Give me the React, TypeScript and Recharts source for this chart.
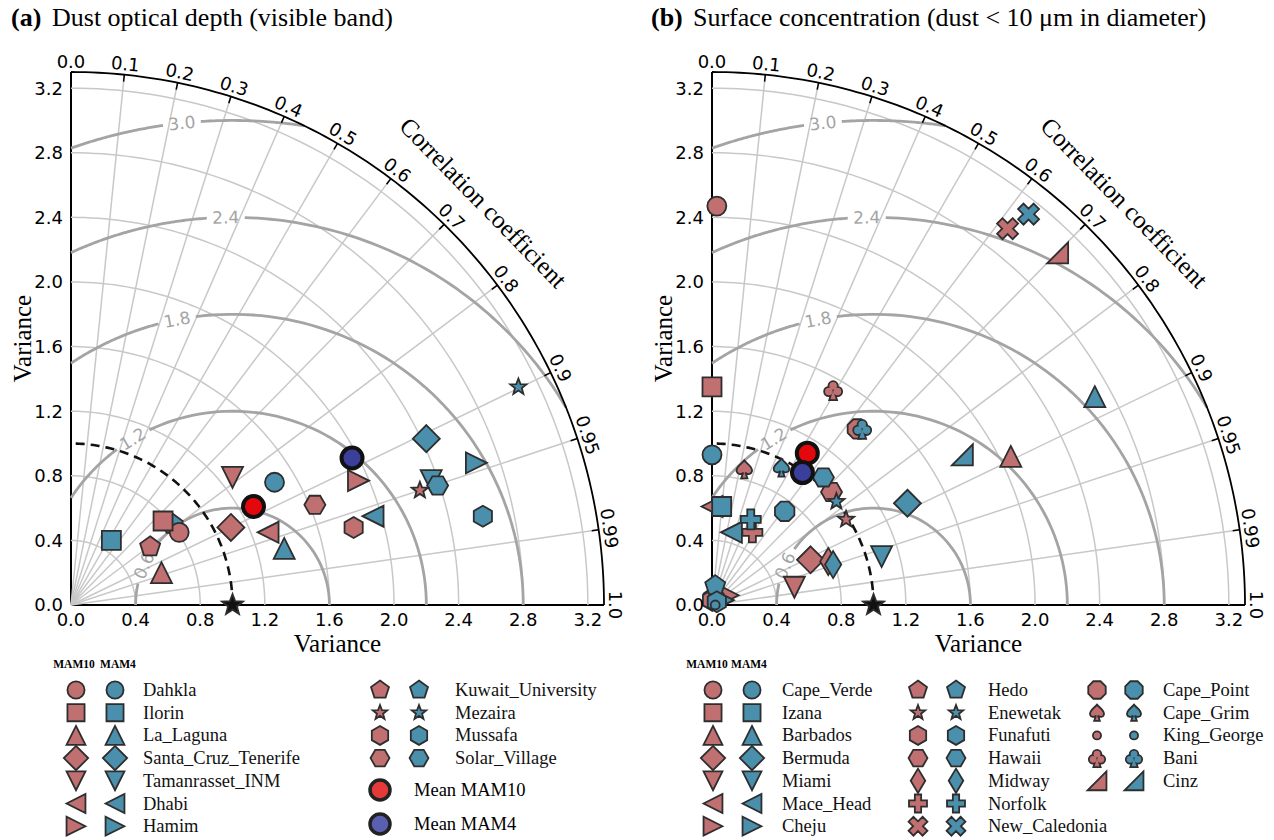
import { Scatter, ScatterChart, XAxis, YAxis } from 'recharts'

// ---- panel (a): dust optical depth (visible band) ----
const stationsA = ['Dahkla', 'Ilorin', 'La_Laguna', 'Santa_Cruz_Tenerife', 'Tamanrasset_INM', 'Dhabi', 'Hamim', 'Kuwait_University', 'Mezaira', 'Mussafa', 'Solar_Village']
const markersA = ['o', 's', '^', 'D', 'v', '<', '>', 'p', '*', 'h', 'H']
const mam10XA = [0.67, 0.57, 0.56, 0.99, 1.0, 1.22, 1.78, 0.49, 2.16, 1.75, 1.51]
const mam10YA = [0.45, 0.52, 0.2, 0.48, 0.79, 0.45, 0.77, 0.36, 0.71, 0.48, 0.62]
const mam4XA = [1.26, 0.25, 1.32, 2.2, 2.23, 1.87, 2.51, 0.63, 2.77, 2.55, 2.27]
const mam4YA = [0.76, 0.4, 0.35, 1.03, 0.77, 0.55, 0.88, 0.5, 1.35, 0.55, 0.74]
const meanXA = [1.13, 1.74]
const meanYA = [0.61, 0.91]

// ---- panel (b): surface concentration ----
const stationsB = ['Cape_Verde', 'Izana', 'Barbados', 'Bermuda', 'Miami', 'Mace_Head', 'Cheju', 'Hedo', 'Enewetak', 'Funafuti', 'Hawaii', 'Midway', 'Norfolk', 'New_Caledonia', 'Cape_Point', 'Cape_Grim', 'King_George', 'Bani', 'Cinz']
const markersB = ['o', 's', '^', 'D', 'v', '<', '>', 'p', '*', 'h', 'H', 'd', 'P', 'X', '8', 'spade', '.', 'club', 'cinz']
const mam10XB = [0.03, 0.0, 1.85, 0.61, 0.51, 0.0, 0.1, 0.01, 0.83, 0.0, 0.74, 0.72, 0.25, 1.83, 0.9, 0.2, 0.01, 0.75, 2.14]
const mam10YB = [2.47, 1.35, 0.92, 0.28, 0.11, 0.61, 0.06, 0.05, 0.53, 0.03, 0.7, 0.27, 0.45, 2.33, 1.09, 0.84, 0.01, 1.33, 2.18]
const mam4XB = [0.0, 0.06, 2.37, 1.21, 1.05, 0.12, 0.07, 0.02, 0.77, 0.03, 0.69, 0.75, 0.24, 1.96, 0.45, 0.43, 0.02, 0.93, 1.55]
const mam4YB = [0.93, 0.61, 1.29, 0.63, 0.3, 0.45, 0.03, 0.12, 0.64, 0.02, 0.79, 0.25, 0.53, 2.42, 0.58, 0.85, 0.0, 1.09, 0.93]
const meanXB = [0.59, 0.56]
const meanYB = [0.94, 0.82]

// axes / grid definition
const CORR_TICKS = [0, 0.1, 0.2, 0.3, 0.4, 0.5, 0.6, 0.7, 0.8, 0.9, 0.95, 0.99, 1]
const STD_TICKS = [0, 0.4, 0.8, 1.2, 1.6, 2.0, 2.4, 2.8, 3.2]
const RMS_LEVELS = [0.6, 1.2, 1.8, 2.4, 3.0]
const RMS_LABEL_DEG = [156, 121, 101, 91, 96]

const R_MAX = 3.3
const PLOT = 533
const PX = PLOT / R_MAX
const DEG = Math.PI / 180

const RED = '#c07071'
const BLUE = '#4a90ac'
const EDGE = '#2e2e2e'
const GRID = '#c8c8c8'
const RMS_C = '#a4a4a4'
const SERIF = '"Liberation Serif", "Times New Roman", serif'
const SANS = '"DejaVu Sans", sans-serif'

type Pt = { x: number; y: number; [k: string]: any }

const clampPt = (x: number, y: number): Pt => ({
  x: Math.min(R_MAX, Math.max(0, x)),
  y: Math.min(R_MAX, Math.max(0, y)),
})

function arc(x0: number, r: number, a0: number, a1: number, n = 90): Pt[] {
  return Array.from({ length: n + 1 }, (_, i) => {
    const a = (a0 + ((a1 - a0) * i) / n) * DEG
    return clampPt(x0 + r * Math.cos(a), r * Math.sin(a))
  })
}

// centred-RMS circle around the reference point, cut to the quarter disc, with a gap for its label
function rmsSegments(level: number, labelDeg: number): Pt[][] {
  const hi = level > 1 ? Math.acos(-1 / level) / DEG : 180
  const c = (R_MAX * R_MAX - 1 - level * level) / (2 * level)
  const lo = c < 1 ? Math.acos(c) / DEG : 0
  const gap = 19 / (level * PX) / DEG
  return [arc(1, level, lo, labelDeg - gap, 60), arc(1, level, labelDeg + gap, hi, 60)]
}

// ---- marker glyphs ----
const reg = (n: number, start: number) =>
  Array.from({ length: n }, (_, i) => {
    const a = (start + (360 / n) * i) * DEG
    return [Math.cos(a), Math.sin(a)]
  })
const STAR = Array.from({ length: 10 }, (_, i) => {
  const a = (-90 + 36 * i) * DEG
  const r = i % 2 ? 0.42 : 1
  return [r * Math.cos(a), r * Math.sin(a)]
})
const PLUS = [[-0.35, -1], [0.35, -1], [0.35, -0.35], [1, -0.35], [1, 0.35], [0.35, 0.35], [0.35, 1], [-0.35, 1], [-0.35, 0.35], [-1, 0.35], [-1, -0.35], [-0.35, -0.35]]
const CROSS = PLUS.map(([x, y]) => [(x - y) * Math.SQRT1_2, (x + y) * Math.SQRT1_2])

const SHAPES: Record<string, { pts: number[][]; r: number }> = {
  s: { pts: [[-1, -1], [1, -1], [1, 1], [-1, 1]], r: 9.5 },
  '^': { pts: [[0, -1], [1, 1], [-1, 1]], r: 10.5 },
  v: { pts: [[0, 1], [1, -1], [-1, -1]], r: 10.5 },
  '<': { pts: [[-1, 0], [1, -1], [1, 1]], r: 10.5 },
  '>': { pts: [[1, 0], [-1, -1], [-1, 1]], r: 10.5 },
  D: { pts: [[0, -1], [1, 0], [0, 1], [-1, 0]], r: 13.5 },
  d: { pts: [[0, -1], [0.6, 0], [0, 1], [-0.6, 0]], r: 13.5 },
  p: { pts: reg(5, -90), r: 10.5 },
  h: { pts: reg(6, -90), r: 10.5 },
  H: { pts: reg(6, 0), r: 10.5 },
  '8': { pts: reg(8, 22.5), r: 10.5 },
  '*': { pts: STAR, r: 8.5 },
  P: { pts: PLUS, r: 10 },
  X: { pts: CROSS, r: 11 },
  cinz: { pts: [[-1, 1], [1, 1], [1, -1]], r: 10.5 },
}

const SPADE = 'M0,-1 C0.35,-0.55 1,-0.25 0.85,0.25 C0.75,0.6 0.3,0.6 0.12,0.35 L0.35,1 L-0.35,1 L-0.12,0.35 C-0.3,0.6 -0.75,0.6 -0.85,0.25 C-1,-0.25 -0.35,-0.55 0,-1 Z'

function clubParts(fill: string, stroke: string, sw: number) {
  const common = { fill, stroke, strokeWidth: sw, vectorEffect: 'non-scaling-stroke' as const }
  return [
    <circle key="a" cx={0} cy={-0.48} r={0.42} {...common} />,
    <circle key="b" cx={-0.48} cy={0.15} r={0.42} {...common} />,
    <circle key="c" cx={0.48} cy={0.15} r={0.42} {...common} />,
    <polygon key="d" points="0,0 0.3,1 -0.3,1" {...common} />,
  ]
}

function Glyph({ kind, cx, cy, fill, k = 1 }: { kind: string; cx: number; cy: number; fill: string; k?: number }) {
  const sw = 1.8
  if (kind === 'o' || kind === '.') {
    return <circle cx={cx} cy={cy} r={(kind === 'o' ? 9.5 : 4.5) * k} fill={fill} stroke={EDGE} strokeWidth={sw} />
  }
  if (kind === 'spade') {
    return (
      <path d={SPADE} transform={`translate(${cx},${cy}) scale(${9 * k})`} fill={fill} stroke={EDGE}
        strokeWidth={sw} vectorEffect="non-scaling-stroke" />
    )
  }
  if (kind === 'club') {
    return (
      <g transform={`translate(${cx},${cy}) scale(${9 * k})`}>
        {clubParts(EDGE, EDGE, sw * 2)}
        {clubParts(fill, 'none', 0)}
      </g>
    )
  }
  const sh = SHAPES[kind]
  const r = sh.r * k
  const pts = sh.pts.map(([x, y]) => `${(cx + x * r).toFixed(2)},${(cy + y * r).toFixed(2)}`).join(' ')
  return <polygon points={pts} fill={fill} stroke={EDGE} strokeWidth={sw} strokeLinejoin="miter" />
}

const NONE = () => <g />

function CorrTick(p: any) {
  const c = p.payload.c
  const th = Math.acos(c)
  const ux = Math.cos(th)
  const uy = -Math.sin(th)
  const tx = p.cx + ux * 11
  const ty = p.cy + uy * 11
  const label = c === 0 ? '0.0' : c === 1 ? '1.0' : String(c)
  return (
    <g>
      <line x1={p.cx} y1={p.cy} x2={p.cx - ux * 7} y2={p.cy - uy * 7} stroke="#000" strokeWidth={1.5} />
      <text x={tx} y={ty} transform={`rotate(${90 - th / DEG} ${tx} ${ty})`} textAnchor="middle"
        dominantBaseline="central" fontFamily={SANS} fontSize={18} fill="#000">
        {label}
      </text>
    </g>
  )
}

function RmsLabel(p: any) {
  const { lv, deg } = p.payload
  return (
    <text x={p.cx} y={p.cy} transform={`rotate(${90 - deg} ${p.cx} ${p.cy})`} textAnchor="middle"
      dominantBaseline="central" fill={RMS_C} fontSize={17} fontFamily={SANS}>
      {lv.toFixed(1)}
    </text>
  )
}

function CorrTitle(p: any) {
  const a = p.payload.a * DEG
  const tx = p.cx + Math.cos(a) * 43
  const ty = p.cy - Math.sin(a) * 43
  return (
    <text x={tx} y={ty} transform={`rotate(${90 - p.payload.a} ${tx} ${ty})`} textAnchor="middle"
      dominantBaseline="central" fontFamily={SERIF} fontSize={25} fill="#000">
      Correlation coefficient
    </text>
  )
}

interface PanelProps {
  width: number
  kinds: string[]
  xs10: number[]
  ys10: number[]
  xs4: number[]
  ys4: number[]
  meanX: number[]
  meanY: number[]
  mam4First: boolean
}

function TaylorPanel({ width, kinds, xs10, ys10, xs4, ys4, meanX, meanY, mam4First }: PanelProps) {
  const p10 = xs10.map((x, i) => ({ x, y: ys10[i], kind: kinds[i] }))
  const p4 = xs4.map((x, i) => ({ x, y: ys4[i], kind: kinds[i] }))
  const means = meanX.map((x, i) => ({ x, y: meanY[i], fill: i === 0 ? '#e4080c' : '#3a3f9c' }))
  const corrPts = CORR_TICKS.map((c) => ({ x: R_MAX * c, y: R_MAX * Math.sqrt(1 - c * c), c }))
  const rmsLabels = RMS_LEVELS.map((lv, i) => ({
    x: 1 + lv * Math.cos(RMS_LABEL_DEG[i] * DEG),
    y: lv * Math.sin(RMS_LABEL_DEG[i] * DEG),
    lv,
    deg: RMS_LABEL_DEG[i],
  }))
  const titleAng = 44.3
  const s10 = (
    <Scatter key="mam10" data={p10} isAnimationActive={false}
      shape={(p: any) => <Glyph kind={p.payload.kind} cx={p.cx} cy={p.cy} fill={RED} />} />
  )
  const s4 = (
    <Scatter key="mam4" data={p4} isAnimationActive={false}
      shape={(p: any) => <Glyph kind={p.payload.kind} cx={p.cx} cy={p.cy} fill={BLUE} />} />
  )

  return (
    <ScatterChart width={width} height={660} margin={{ top: 72, right: width - 604, bottom: 5, left: 11 }}>
      <XAxis type="number" dataKey="x" domain={[0, R_MAX]} ticks={STD_TICKS} interval={0}
        tickFormatter={(v: number) => v.toFixed(1)} tickLine={false} tickSize={6} height={50}
        axisLine={{ stroke: '#000', strokeWidth: 2 }}
        tick={{ fontSize: 18, fill: '#000', fontFamily: SANS }}
        label={{ value: 'Variance', position: 'insideBottom', offset: 3, style: { fontFamily: SERIF, fontSize: 25, fill: '#000' } }} />
      <YAxis type="number" dataKey="y" domain={[0, R_MAX]} ticks={STD_TICKS} interval={0}
        tickFormatter={(v: number) => v.toFixed(1)} tickLine={false} tickSize={6} width={60}
        axisLine={{ stroke: '#000', strokeWidth: 2 }}
        tick={{ fontSize: 18, fill: '#000', fontFamily: SANS }}
        label={{ value: 'Variance', angle: -90, position: 'insideLeft', offset: 11, style: { textAnchor: 'middle', fontFamily: SERIF, fontSize: 25, fill: '#000' } }} />

      {STD_TICKS.slice(1).map((r) => (
        <Scatter key={`std${r}`} data={arc(0, r, 0, 90)} line={{ stroke: GRID, strokeWidth: 1.5 }}
          shape={NONE} isAnimationActive={false} />
      ))}
      {CORR_TICKS.slice(1, -1).map((c) => (
        <Scatter key={`cor${c}`} data={[{ x: 0, y: 0 }, { x: R_MAX * c, y: R_MAX * Math.sqrt(1 - c * c) }]}
          line={{ stroke: GRID, strokeWidth: 1.5 }} shape={NONE} isAnimationActive={false} />
      ))}
      {RMS_LEVELS.flatMap((lv, i) =>
        rmsSegments(lv, RMS_LABEL_DEG[i]).map((seg, j) => (
          <Scatter key={`rms${lv}-${j}`} data={seg} line={{ stroke: RMS_C, strokeWidth: 2.8 }}
            shape={NONE} isAnimationActive={false} />
        )),
      )}
      <Scatter data={arc(0, 1, 0, 90)} line={{ stroke: '#111', strokeWidth: 2.6, strokeDasharray: '9 6' }}
        shape={NONE} isAnimationActive={false} />
      <Scatter data={arc(0, R_MAX, 0, 90, 120)} line={{ stroke: '#000', strokeWidth: 1.8 }}
        shape={NONE} isAnimationActive={false} />
      <Scatter data={corrPts} shape={CorrTick} isAnimationActive={false} />
      <Scatter data={rmsLabels} shape={RmsLabel} isAnimationActive={false} />
      <Scatter data={[{ x: R_MAX * Math.cos(titleAng * DEG), y: R_MAX * Math.sin(titleAng * DEG), a: titleAng }]}
        shape={CorrTitle} isAnimationActive={false} />
      <Scatter data={[{ x: 1, y: 0 }]} isAnimationActive={false}
        shape={(p: any) => <Glyph kind="*" cx={p.cx} cy={p.cy} fill="#111" k={1.3} />} />
      {mam4First ? [s4, s10] : [s10, s4]}
      <Scatter data={means} isAnimationActive={false}
        shape={(p: any) => <circle cx={p.cx} cy={p.cy} r={10.5} fill={p.payload.fill} stroke="#111" strokeWidth={4} />} />
    </ScatterChart>
  )
}

// ---- legends ----
const ROW0 = 690
const ROW_H = 22.7

interface LegendCol {
  red: number
  blue: number
  text: number
  from: number
  to: number
}

function LegendBlock({ names, kinds, cols, head10, head4, meanX, meanText }: {
  names: string[]; kinds: string[]; cols: LegendCol[]; head10: number; head4: number; meanX?: number; meanText?: number
}) {
  const items: JSX.Element[] = []
  cols.forEach((col, ci) => {
    for (let i = col.from; i < col.to; i++) {
      const y = ROW0 + (i - col.from) * ROW_H
      items.push(
        <g key={`${ci}-${i}`}>
          <Glyph kind={kinds[i]} cx={col.red} cy={y} fill={RED} k={0.9} />
          <Glyph kind={kinds[i]} cx={col.blue} cy={y} fill={BLUE} k={0.9} />
          <text x={col.text} y={y} dominantBaseline="central" fontFamily={SERIF} fontSize={18.5} fill="#111">
            {names[i]}
          </text>
        </g>,
      )
    }
  })
  return (
    <g>
      <text x={head10} y={668} textAnchor="middle" fontFamily={SERIF} fontWeight="bold" fontSize={11.5}>MAM10</text>
      <text x={head4} y={668} textAnchor="middle" fontFamily={SERIF} fontWeight="bold" fontSize={11.5}>MAM4</text>
      {items}
      {meanX !== undefined && meanText !== undefined && (
        <g>
          <circle cx={meanX} cy={790} r={10} fill="#e63a3a" stroke="#222" strokeWidth={3.5} />
          <text x={meanText} y={790} dominantBaseline="central" fontFamily={SERIF} fontSize={18.5}>Mean MAM10</text>
          <circle cx={meanX} cy={824} r={10} fill="#5a5fb2" stroke="#222" strokeWidth={3.5} />
          <text x={meanText} y={824} dominantBaseline="central" fontFamily={SERIF} fontSize={18.5}>Mean MAM4</text>
        </g>
      )}
    </g>
  )
}

export default function App() {
  const abs = (left: number, top: number) => ({ position: 'absolute' as const, left, top })
  return (
    <div style={{ position: 'absolute', left: 0, top: 0, width: 1274, height: 840, background: '#fff', overflow: 'hidden' }}>
      <div style={{ ...abs(11, 3), font: `bold 26px ${SERIF}`, lineHeight: '30px' }}>(a)</div>
      <div style={{ ...abs(52, 3), font: `26px ${SERIF}`, lineHeight: '30px' }}>Dust optical depth (visible band)</div>
      <div style={{ ...abs(651, 3), font: `bold 26px ${SERIF}`, lineHeight: '30px' }}>(b)</div>
      <div style={{ ...abs(693, 3), font: `26px ${SERIF}`, lineHeight: '30px', whiteSpace: 'nowrap' }}>
        Surface concentration (dust &lt; 10 μm in diameter)
      </div>

      <div style={abs(0, 0)}>
        <TaylorPanel width={640} kinds={markersA} xs10={mam10XA} ys10={mam10YA} xs4={mam4XA} ys4={mam4YA}
          meanX={meanXA} meanY={meanYA} mam4First={true} />
      </div>
      <div style={abs(641, 0)}>
        <TaylorPanel width={633} kinds={markersB} xs10={mam10XB} ys10={mam10YB} xs4={mam4XB} ys4={mam4YB}
          meanX={meanXB} meanY={meanYB} mam4First={false} />
      </div>

      <svg width={1274} height={840} style={{ ...abs(0, 0), pointerEvents: 'none' }}>
        <LegendBlock names={stationsA} kinds={markersA} head10={74} head4={118}
          cols={[
            { red: 76, blue: 115, text: 143, from: 0, to: 7 },
            { red: 380, blue: 419, text: 455, from: 7, to: 11 },
          ]}
          meanX={380} meanText={414} />
        <LegendBlock names={stationsB} kinds={markersB} head10={707} head4={749}
          cols={[
            { red: 713, blue: 752, text: 782, from: 0, to: 7 },
            { red: 918, blue: 956, text: 988, from: 7, to: 14 },
            { red: 1097, blue: 1134, text: 1163, from: 14, to: 19 },
          ]} />
      </svg>
    </div>
  )
}
